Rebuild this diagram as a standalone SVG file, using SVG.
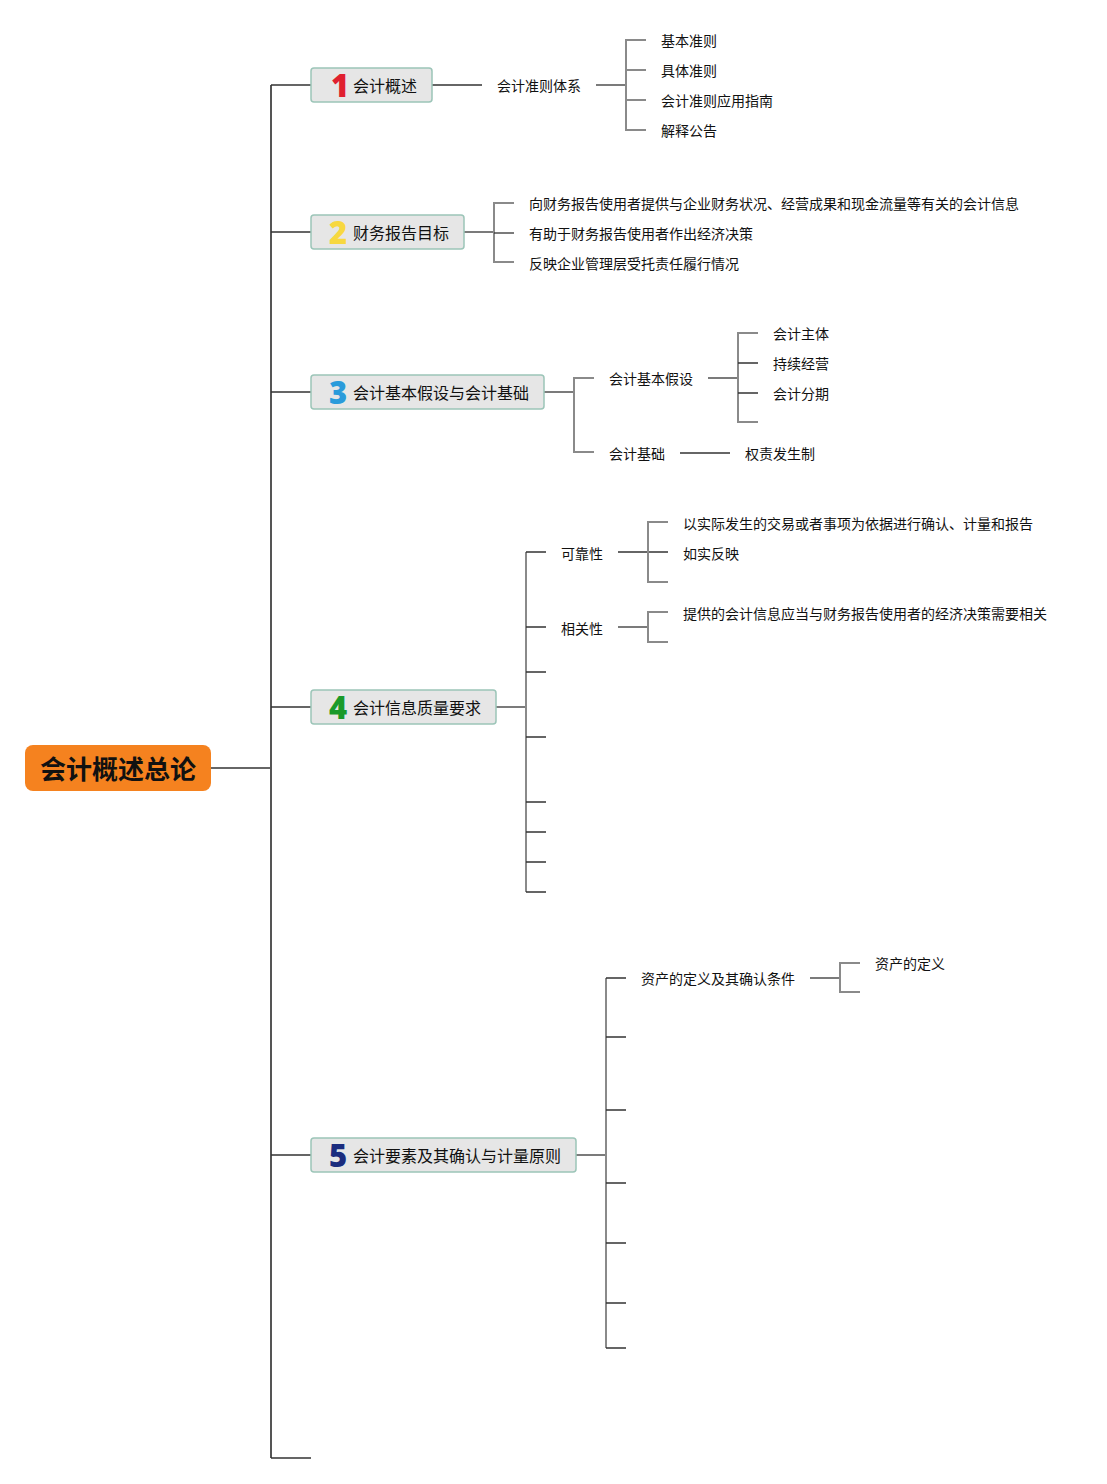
<svg xmlns="http://www.w3.org/2000/svg" width="1107" height="1484" viewBox="0 0 1107 1484">
<style>
.t{font-family:"Noto Sans CJK SC","Liberation Sans",sans-serif;font-size:14px;fill:#111}
.l1{font-family:"Noto Sans CJK SC","Liberation Sans",sans-serif;font-size:16px;fill:#111}
.num{font-family:"Open Sans","Liberation Sans",sans-serif;font-size:31px;font-weight:800}
.box{fill:#E6E6E6;stroke:#9CC5B8;stroke-width:1.5}
.h{stroke:#333;stroke-width:1.3;fill:none}
.g{stroke:#8a8a8a;stroke-width:2;fill:none}
.trunk{stroke:#555;stroke-width:2;fill:none}
</style>
<rect width="1107" height="1484" fill="#fff"/>
<g id="connectors">
  <path class="h" d="M211 768H271"/>
  <path class="trunk" d="M271 85V1458"/>
  <path class="h" d="M271 85H311M271 232H311M271 392H311M271 707H311M271 1155H311M271 1458H311"/>
  <path class="h" d="M432 85H482" stroke="#888"/>
  <path class="h" d="M596 85H626" stroke-width="2"/>
  <path class="g" d="M646 40H626V130H646M626 70H646M626 100H646"/>
  <path class="h" d="M464 232H494"/>
  <path class="g" d="M514 203H494V262H514"/>
  <path class="h" d="M494 233H514"/>
  <path class="h" d="M544 392H574"/>
  <path class="g" d="M594 378H574V452H594"/>
  <path class="h" d="M708 378H738"/>
  <path class="g" d="M758 333H738V422H758"/>
  <path class="h" d="M738 363H758M738 393H758"/>
  <path class="h" d="M680 453H730"/>
  <path class="h" d="M496 707H526"/>
  <path class="g" d="M526 552V892" stroke="#444"/>
  <path class="h" d="M526 552H546M526 627H546M526 672H546M526 737H546M526 802H546M526 832H546M526 862H546M526 892H546"/>
  <path class="h" d="M618 552H668"/>
  <path class="g" d="M668 522H648V582H668"/>
  <path class="h" d="M618 627H648"/>
  <path class="g" d="M668 612H648V642H668"/>
  <path class="h" d="M576 1155H606"/>
  <path class="g" d="M606 978V1348" stroke="#666"/>
  <path class="h" d="M606 978H626M606 1037H626M606 1110H626M606 1183H626M606 1243H626M606 1303H626M606 1348H626"/>
  <path class="h" d="M810 978H840"/>
  <path class="g" d="M860 963H840V992H860"/>
</g>
<g id="root">
  <rect x="25" y="745" width="186" height="46" rx="8" fill="#F5821F"/>
  <text x="118" y="779" text-anchor="middle" font-family="'Noto Sans CJK SC',sans-serif" font-size="26" font-weight="700" fill="#111">会计概述总论</text>
</g>
<g id="n1">
  <rect class="box" x="311" y="68" width="121" height="34" rx="3"/>
  <text class="num" x="331" y="97" fill="#E0202F">1</text>
  <text class="l1" x="353" y="92">会计概述</text>
</g>
<g id="n1-1"><text class="t" x="497" y="91">会计准则体系</text></g>
<g id="n1-1-1"><text class="t" x="661" y="46">基本准则</text></g>
<g id="n1-1-2"><text class="t" x="661" y="76">具体准则</text></g>
<g id="n1-1-3"><text class="t" x="661" y="106">会计准则应用指南</text></g>
<g id="n1-1-4"><text class="t" x="661" y="136">解释公告</text></g>
<g id="n2">
  <rect class="box" x="311" y="215" width="153" height="34" rx="3"/>
  <text class="num" x="329" y="244" fill="#F7D840">2</text>
  <text class="l1" x="353" y="239">财务报告目标</text>
</g>
<g id="n2-1"><text class="t" x="529" y="209">向财务报告使用者提供与企业财务状况、经营成果和现金流量等有关的会计信息</text></g>
<g id="n2-2"><text class="t" x="529" y="239">有助于财务报告使用者作出经济决策</text></g>
<g id="n2-3"><text class="t" x="529" y="269">反映企业管理层受托责任履行情况</text></g>
<g id="n3">
  <rect class="box" x="311" y="375" width="233" height="34" rx="3"/>
  <text class="num" x="329" y="404" fill="#2A9BDB">3</text>
  <text class="l1" x="353" y="399">会计基本假设与会计基础</text>
</g>
<g id="n3-1"><text class="t" x="609" y="384">会计基本假设</text></g>
<g id="n3-1-1"><text class="t" x="773" y="339">会计主体</text></g>
<g id="n3-1-2"><text class="t" x="773" y="369">持续经营</text></g>
<g id="n3-1-3"><text class="t" x="773" y="399">会计分期</text></g>
<g id="n3-2"><text class="t" x="609" y="459">会计基础</text></g>
<g id="n3-2-1"><text class="t" x="745" y="459">权责发生制</text></g>
<g id="n4">
  <rect class="box" x="311" y="690" width="185" height="34" rx="3"/>
  <text class="num" x="329" y="719" fill="#1A9A2A">4</text>
  <text class="l1" x="353" y="714">会计信息质量要求</text>
</g>
<g id="n4-1"><text class="t" x="561" y="559">可靠性</text></g>
<g id="n4-1-1"><text class="t" x="683" y="529">以实际发生的交易或者事项为依据进行确认、计量和报告</text></g>
<g id="n4-1-2"><text class="t" x="683" y="559">如实反映</text></g>
<g id="n4-2"><text class="t" x="561" y="634">相关性</text></g>
<g id="n4-2-1"><text class="t" x="683" y="619">提供的会计信息应当与财务报告使用者的经济决策需要相关</text></g>
<g id="n5">
  <rect class="box" x="311" y="1138" width="265" height="34" rx="3"/>
  <text class="num" x="329" y="1167" fill="#1B2C7E">5</text>
  <text class="l1" x="353" y="1162">会计要素及其确认与计量原则</text>
</g>
<g id="n5-1"><text class="t" x="641" y="984">资产的定义及其确认条件</text></g>
<g id="n5-1-1"><text class="t" x="875" y="969">资产的定义</text></g>
</svg>
